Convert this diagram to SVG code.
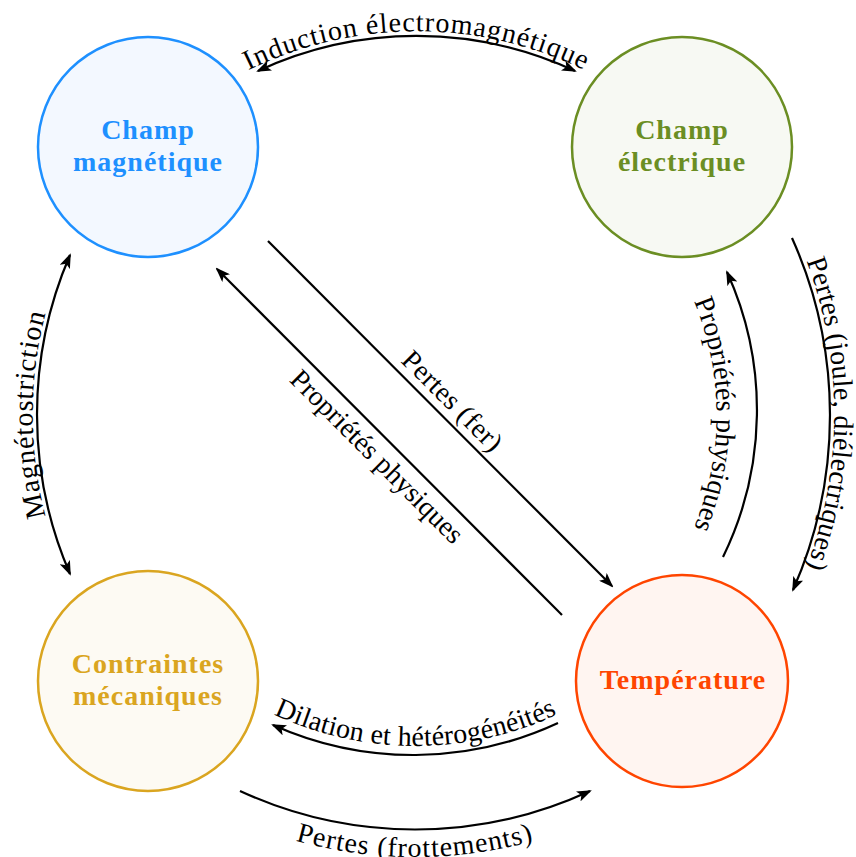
<svg xmlns="http://www.w3.org/2000/svg" width="856" height="857" viewBox="0 0 856 857">
<style>
.node{stroke-width:2.5}
.nt{font-family:"Liberation Serif","Times New Roman",serif;font-weight:bold;font-size:28px;letter-spacing:1px;text-anchor:middle}
.edge{fill:none;stroke:#000;stroke-width:2.2;marker-end:url(#arr)}
.both{marker-start:url(#arr)}
.lbl{font-family:"Liberation Serif","Times New Roman",serif;font-size:28px;fill:#000}
</style>
<defs>
<marker id="arr" viewBox="0 0 15 11" refX="13" refY="5.5" markerWidth="15" markerHeight="11" markerUnits="userSpaceOnUse" orient="auto-start-reverse">
<path d="M0,0 L15,5.5 L0,11 L3.5,5.5 Z" fill="#000"/>
</marker>
<path id="tpTop" d="M197.8,100.3 A381,381 0 0 1 635.2,100.3"/>
<path id="tpRightOut" d="M732.2,133.7 A436,436 0 0 1 732.2,694.3"/>
<path id="tpRightIn" d="M648.1,226.2 A293,293 0 0 1 648.1,602.8"/>
<path id="tpLeft" d="M128,675.5 A405,405 0 0 1 128,153.5"/>
<path id="tpDiag1" d="M274,235 L618,580"/>
<path id="tpDiag2" d="M198,290 L543,636"/>
<path id="tpBotIn" d="M200.8,667.8 A334,334 0 0 0 630.2,667.8"/>
<path id="tpBotOut" d="M130.8,753.6 A442,442 0 0 0 699.2,753.6"/>
</defs>
<rect width="856" height="857" fill="#fff"/>

<g id="connectors">
<path class="edge both" d="M258,71 A376,376 0 0 1 575,71"/>
<text class="lbl" letter-spacing="1"><textPath href="#tpTop" startOffset="50%" text-anchor="middle">Induction électromagnétique</textPath></text>

<path class="edge" d="M792,238 A432,432 0 0 1 793,590"/>
<text class="lbl" letter-spacing="0.2"><textPath href="#tpRightOut" startOffset="50%" text-anchor="middle">Pertes (joule, diélectriques)</textPath></text>

<path class="edge" d="M723,557 A334,334 0 0 0 727,272"/>
<text class="lbl"><textPath href="#tpRightIn" startOffset="50%" text-anchor="middle">Propriétés physiques</textPath></text>

<path class="edge both" d="M70,255 A402,402 0 0 0 70,574"/>
<text class="lbl" letter-spacing="0.9"><textPath href="#tpLeft" startOffset="50%" text-anchor="middle">Magnétostriction</textPath></text>

<path class="edge" d="M268,241 L612,586"/>
<text class="lbl" letter-spacing="0.4"><textPath href="#tpDiag1" startOffset="50%" text-anchor="middle">Pertes (fer)</textPath></text>

<path class="edge" d="M562,615 L217,269"/>
<text class="lbl"><textPath href="#tpDiag2" startOffset="50%" text-anchor="middle">Propriétés physiques</textPath></text>

<path class="edge" d="M558,723 A343,343 0 0 1 273,725"/>
<text class="lbl" letter-spacing="0.2"><textPath href="#tpBotIn" startOffset="50%" text-anchor="middle">Dilation et hétérogénéités</textPath></text>

<path class="edge" d="M240,791 A417,417 0 0 0 590,791"/>
<text class="lbl" letter-spacing="1"><textPath href="#tpBotOut" startOffset="50%" text-anchor="middle">Pertes (frottements)</textPath></text>
</g>

<g id="champ-magnetique">
<circle class="node" cx="148" cy="147" r="110" fill="#F3F8FF" stroke="#1E90FF"/>
<text class="nt" fill="#1E90FF"><tspan x="148" y="139">Champ</tspan><tspan x="148" y="171">magnétique</tspan></text>
</g>
<g id="champ-electrique">
<circle class="node" cx="682" cy="147" r="110" fill="#F7F9F3" stroke="#6B8E23"/>
<text class="nt" fill="#6B8E23"><tspan x="682" y="139">Champ</tspan><tspan x="682" y="171">électrique</tspan></text>
</g>
<g id="contraintes-mecaniques">
<circle class="node" cx="148" cy="681" r="110" fill="#FDFAF3" stroke="#DAA520"/>
<text class="nt" fill="#DAA520"><tspan x="148" y="673">Contraintes</tspan><tspan x="148" y="705">mécaniques</tspan></text>
</g>
<g id="temperature">
<circle class="node" cx="682" cy="681" r="106" fill="#FFF5F1" stroke="#FF4500"/>
<text class="nt" fill="#FF4500"><tspan x="683" y="689">Température</tspan></text>
</g>
</svg>
